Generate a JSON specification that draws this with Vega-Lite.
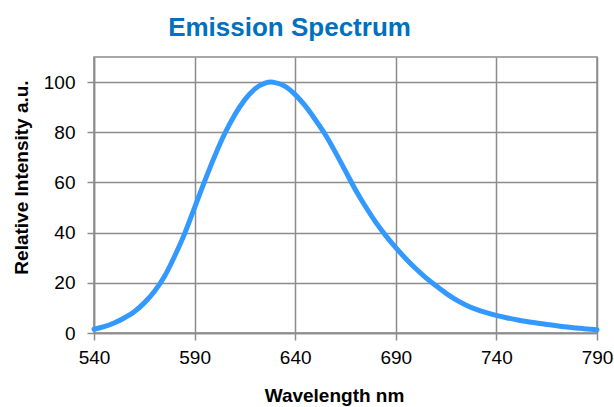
{
  "$schema": "https://vega.github.io/schema/vega-lite/v6.json",
  "autosize": {"type": "none"},
  "width": 503,
  "height": 276,
  "padding": {"left": 94, "top": 57, "right": 17, "bottom": 74},
  "background": "white",
  "config": {
    "font": "Liberation Sans",
    "view": {"stroke": "#8c8c8c", "strokeWidth": 1.5},
    "axis": {
      "gridColor": "#8c8c8c",
      "gridWidth": 1.5,
      "gridOpacity": 1,
      "domainColor": "#8c8c8c",
      "domainWidth": 1.5,
      "tickColor": "#8c8c8c",
      "tickWidth": 1.5,
      "tickSize": 7,
      "labelFont": "Liberation Sans",
      "labelFontSize": 19,
      "labelColor": "#000000",
      "titleFont": "Liberation Sans",
      "titleFontSize": 19,
      "titleFontWeight": "bold",
      "titleColor": "#000000"
    }
  },
  "title": {
    "text": "Emission Spectrum",
    "font": "Liberation Sans",
    "fontSize": 26,
    "fontWeight": "bold",
    "color": "#0070C0",
    "anchor": "middle",
    "baseline": "alphabetic",
    "dx": -56,
    "offset": -5
  },
  "data": {
    "values": [
      {"wl": 540, "i": 1.5}, {"wl": 545, "i": 2.5}, {"wl": 550, "i": 4}, {"wl": 555, "i": 6},
      {"wl": 560, "i": 8.5}, {"wl": 565, "i": 12}, {"wl": 570, "i": 16.5}, {"wl": 575, "i": 22.5},
      {"wl": 580, "i": 30.5}, {"wl": 585, "i": 39.5}, {"wl": 590, "i": 50}, {"wl": 595, "i": 60.5},
      {"wl": 600, "i": 70.5}, {"wl": 605, "i": 79.5}, {"wl": 610, "i": 87}, {"wl": 615, "i": 93},
      {"wl": 620, "i": 97.3}, {"wl": 625, "i": 99.6}, {"wl": 628, "i": 100}, {"wl": 630, "i": 99.8},
      {"wl": 635, "i": 98.3}, {"wl": 640, "i": 95}, {"wl": 645, "i": 90.5}, {"wl": 650, "i": 85},
      {"wl": 655, "i": 79}, {"wl": 660, "i": 72}, {"wl": 665, "i": 64.5}, {"wl": 670, "i": 57},
      {"wl": 675, "i": 50.3}, {"wl": 680, "i": 44.2}, {"wl": 685, "i": 38.8}, {"wl": 690, "i": 34},
      {"wl": 695, "i": 29.6}, {"wl": 700, "i": 25.6}, {"wl": 705, "i": 22}, {"wl": 710, "i": 18.8},
      {"wl": 715, "i": 15.8}, {"wl": 720, "i": 13.2}, {"wl": 725, "i": 11.1}, {"wl": 730, "i": 9.4},
      {"wl": 735, "i": 8.1}, {"wl": 740, "i": 7}, {"wl": 745, "i": 6.1}, {"wl": 750, "i": 5.3},
      {"wl": 755, "i": 4.6}, {"wl": 760, "i": 4}, {"wl": 765, "i": 3.4}, {"wl": 770, "i": 2.9},
      {"wl": 775, "i": 2.4}, {"wl": 780, "i": 2}, {"wl": 785, "i": 1.6}, {"wl": 790, "i": 1.3}
    ]
  },
  "mark": {"type": "line", "color": "#3399FF", "strokeWidth": 5, "interpolate": "monotone", "strokeCap": "round"},
  "encoding": {
    "x": {
      "field": "wl",
      "type": "quantitative",
      "scale": {"domain": [540, 790], "nice": false, "zero": false},
      "axis": {
        "values": [540, 590, 640, 690, 740, 790],
        "title": "Wavelength nm",
        "labelPadding": 8,
        "labelFlush": false,
        "titleBaseline": "alphabetic",
        "titleX": 240,
        "titleY": 68
      }
    },
    "y": {
      "field": "i",
      "type": "quantitative",
      "scale": {"domain": [0, 110], "nice": false},
      "axis": {
        "values": [0, 20, 40, 60, 80, 100],
        "title": "Relative Intensity a.u.",
        "labelPadding": 12,
        "labelFlush": false,
        "titleBaseline": "alphabetic",
        "titleX": -67,
        "titleY": 120
      }
    }
  }
}
